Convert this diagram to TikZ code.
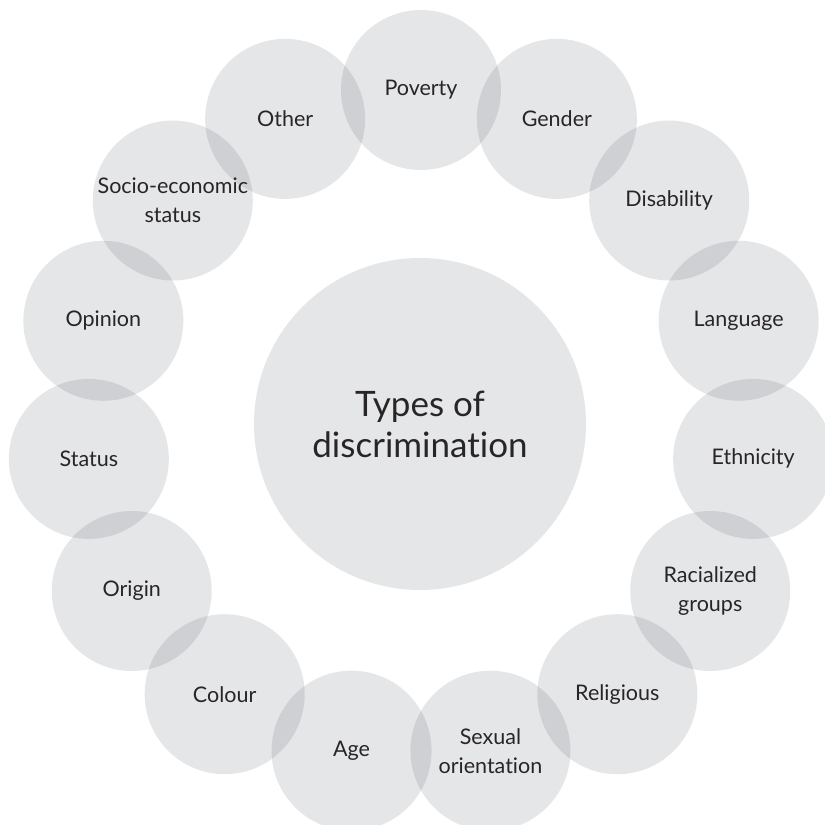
\documentclass[tikz,border=0pt]{standalone}
\usepackage{fontspec}
\setmainfont{Lato}[Ligatures=NoCommon]
\usepackage{tikz}

\definecolor{ringgray}{RGB}{45,50,65}
\definecolor{labelgray}{RGB}{40,37,38}

\tikzset{
  small/.style={circle,fill=ringgray,fill opacity=0.12,text opacity=1,text=labelgray,
    minimum size=160pt,inner sep=0pt,align=center,font=\fontsize{21.5}{29}\selectfont},
  big/.style={small,minimum size=332pt,font=\fontsize{35}{41}\selectfont}
}

\begin{document}
\begin{tikzpicture}[x=1pt,y=1pt]
\useasboundingbox (0,0) rectangle (825,825);

% Central circle
\node[big] (types) at (420,401) {Types of\\discrimination};

% Ring of grounds, clockwise from the top
\begin{scope}[shift={(421,401)}]
\node[small] (poverty) at (90:334) {Poverty};
\node[small] (gender) at (66:334) {Gender};
\node[small] (disability) at (42:334) {Disability};
\node[small] (language) at (18:334) {Language};
\node[small] (ethnicity) at (-6:334) {Ethnicity};
\node[small] (racialized) at (-30:334) {Racialized\\groups};
\node[small] (religious) at (-54:334) {Religious};
\node[small] (sexual) at (-78:334) {Sexual\\orientation};
\node[small] (age) at (-102:334) {Age};
\node[small] (colour) at (-126:334) {Colour};
\node[small] (origin) at (-150:334) {Origin};
\node[small] (status) at (-174:334) {Status};
\node[small] (opinion) at (162:334) {Opinion};
\node[small] (socio) at (138:334) {Socio-economic\\status};
\node[small] (other) at (114:334) {Other};
\end{scope}
\end{tikzpicture}
\end{document}
